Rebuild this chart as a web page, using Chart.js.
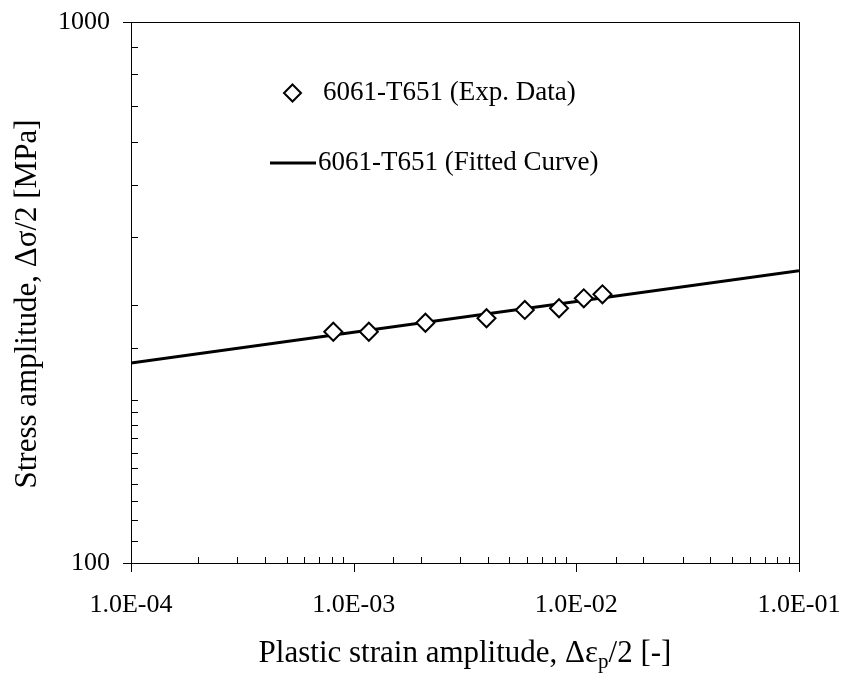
<!DOCTYPE html>
<html>
<head>
<meta charset="utf-8">
<script src="https://cdn.jsdelivr.net/npm/chart.js@4/dist/chart.umd.min.js"></script>
<style>
  html, body { margin: 0; padding: 0; background: #fff; }
  #wrap { width: 843px; height: 690px; }
</style>
</head>
<body>
<div id="wrap"><canvas id="fatiguecanvas"></canvas></div>
<script>
// measured points (plastic strain amplitude, stress amplitude in MPa)
var expStrain = [8.1e-4, 1.17e-3, 2.1e-3, 3.95e-3, 5.87e-3, 8.36e-3, 1.08e-2, 1.31e-2];
var expStress = [267.6, 267.6, 278.0, 283.4, 293.6, 295.7, 308.5, 313.8];
// fitted curve end points (straight line on log-log)
var fitStrain = [1e-4, 1e-1];
var fitStress = [234.3, 347.0];

var xRange = [1e-4, 1e-1];
var yRange = [100, 1000];
var seriesNames = ['6061-T651 (Exp. Data)', '6061-T651 (Fitted Curve)'];
var xTitle = ['Plastic strain amplitude, \u0394\u03b5', 'p', '/2 [-]'];
var yTitle = 'Stress amplitude, \u0394\u03c3/2 [MPa]';

var FONT = "'Liberation Serif', 'Times New Roman', serif";
Chart.defaults.font.family = FONT;
Chart.defaults.color = '#000';

function isDecade(v) {
  var l = Math.log10(v);
  return Math.abs(l - Math.round(l)) < 1e-6;
}
function sciLabel(v) {
  var e = Math.round(Math.log10(v));
  var s = Math.abs(e) < 10 ? '0' + Math.abs(e) : '' + Math.abs(e);
  return '1.0E' + (e < 0 ? '-' : '+') + s;
}

var expPoints = [];
for (var i in expStrain) {
  expPoints.push({x: expStrain[i], y: expStress[i]});
}
var fitPoints = [];
for (var j in fitStrain) {
  fitPoints.push({x: fitStrain[j], y: fitStress[j]});
}

// box, tick marks, legend and axis titles
var decor = {
  id: 'decor',
  beforeDatasetsDraw: function(chart) {
    var ctx = chart.ctx, a = chart.chartArea;
    var xs = chart.scales.x, ys = chart.scales.y;
    ctx.save();
    ctx.strokeStyle = '#000';
    ctx.lineWidth = 1;
    ctx.strokeRect(Math.round(a.left) + 0.5, Math.round(a.top) + 0.5,
      Math.round(a.right - a.left), Math.round(a.bottom - a.top));
    ctx.beginPath();
    xs.ticks.forEach(function(t) {
      var px = Math.round(xs.getPixelForValue(t.value)) + 0.5;
      if (isDecade(t.value)) {
        ctx.moveTo(px, a.bottom); ctx.lineTo(px, a.bottom + 9);
      } else {
        ctx.moveTo(px, a.bottom); ctx.lineTo(px, a.bottom - 6);
      }
    });
    ys.ticks.forEach(function(t) {
      var py = Math.round(ys.getPixelForValue(t.value)) + 0.5;
      if (isDecade(t.value)) {
        ctx.moveTo(a.left - 8, py); ctx.lineTo(a.left, py);
      } else {
        ctx.moveTo(a.left, py); ctx.lineTo(a.left + 7, py);
      }
    });
    ctx.stroke();
    ctx.restore();
  },
  afterDraw: function(chart) {
    var ctx = chart.ctx, a = chart.chartArea;
    ctx.save();
    // legend
    ctx.fillStyle = '#000';
    ctx.font = '27px ' + FONT;
    ctx.textBaseline = 'middle';
    ctx.textAlign = 'left';
    ctx.beginPath();
    ctx.moveTo(292.5, 93 - 8.5);
    ctx.lineTo(292.5 + 8.5, 93);
    ctx.lineTo(292.5, 93 + 8.5);
    ctx.lineTo(292.5 - 8.5, 93);
    ctx.closePath();
    ctx.fillStyle = '#fff';
    ctx.fill();
    ctx.lineWidth = 2;
    ctx.strokeStyle = '#000';
    ctx.stroke();
    ctx.fillStyle = '#000';
    ctx.fillText(seriesNames[0], 323, 93);
    ctx.beginPath();
    ctx.lineWidth = 3;
    ctx.moveTo(270, 163);
    ctx.lineTo(316, 163);
    ctx.stroke();
    ctx.fillText(seriesNames[1], 318, 163);

    // x title with subscript
    var big = '31px ' + FONT, small = '21px ' + FONT;
    ctx.textBaseline = 'alphabetic';
    ctx.font = big;
    var w0 = ctx.measureText(xTitle[0]).width;
    ctx.font = small;
    var w1 = ctx.measureText(xTitle[1]).width;
    ctx.font = big;
    var w2 = ctx.measureText(xTitle[2]).width;
    var x0 = (a.left + a.right) / 2 - (w0 + w1 + w2) / 2;
    ctx.fillText(xTitle[0], x0, 662);
    ctx.font = small;
    ctx.fillText(xTitle[1], x0 + w0, 668);
    ctx.font = big;
    ctx.fillText(xTitle[2], x0 + w0 + w1, 662);

    // y title
    ctx.translate(28, 304);
    ctx.rotate(-Math.PI / 2);
    ctx.textAlign = 'center';
    ctx.textBaseline = 'middle';
    ctx.fillText(yTitle, 0, 0);
    ctx.restore();
  }
};

var ctx = document.getElementById('fatiguecanvas');

var fatigueChart = new Chart(ctx, {
  type: 'scatter',
  data: {
    datasets: [
      {
        label: seriesNames[0],
        data: expPoints,
        pointStyle: 'rectRot',
        pointRadius: 9,
        pointHoverRadius: 9,
        pointBackgroundColor: '#fff',
        pointBorderColor: '#000',
        pointBorderWidth: 2,
        showLine: false
      },
      {
        label: seriesNames[1],
        data: fitPoints,
        showLine: true,
        borderColor: '#000',
        borderWidth: 3,
        pointRadius: 0,
        pointHoverRadius: 0,
        fill: false
      }
    ]
  },
  options: {
    responsive: true,
    maintainAspectRatio: false,
    animation: false,
    layout: { padding: { left: 0, top: 22, right: 44, bottom: 0 } },
    plugins: {
      legend: { display: false },
      tooltip: { enabled: false }
    },
    scales: {
      x: {
        type: 'logarithmic',
        min: xRange[0],
        max: xRange[1],
        grid: { display: false, drawTicks: false },
        border: { display: false },
        ticks: {
          autoSkip: false,
          maxRotation: 0,
          padding: 27,
          font: { size: 26 },
          callback: function(v) { return isDecade(v) ? sciLabel(v) : ''; }
        },
        afterFit: function(scale) {
          scale.height = 690 - 563;
          scale.paddingLeft = 0;
          scale.paddingRight = 0;
        }
      },
      y: {
        type: 'logarithmic',
        min: yRange[0],
        max: yRange[1],
        grid: { display: false, drawTicks: false },
        border: { display: false },
        ticks: {
          autoSkip: false,
          padding: 21,
          font: { size: 26 },
          callback: function(v) { return isDecade(v) ? String(Math.round(v)) : ''; }
        },
        afterFit: function(scale) {
          scale.width = 131;
          scale.paddingTop = 0;
          scale.paddingBottom = 0;
        }
      }
    }
  },
  plugins: [decor]
});
</script>
</body>
</html>
